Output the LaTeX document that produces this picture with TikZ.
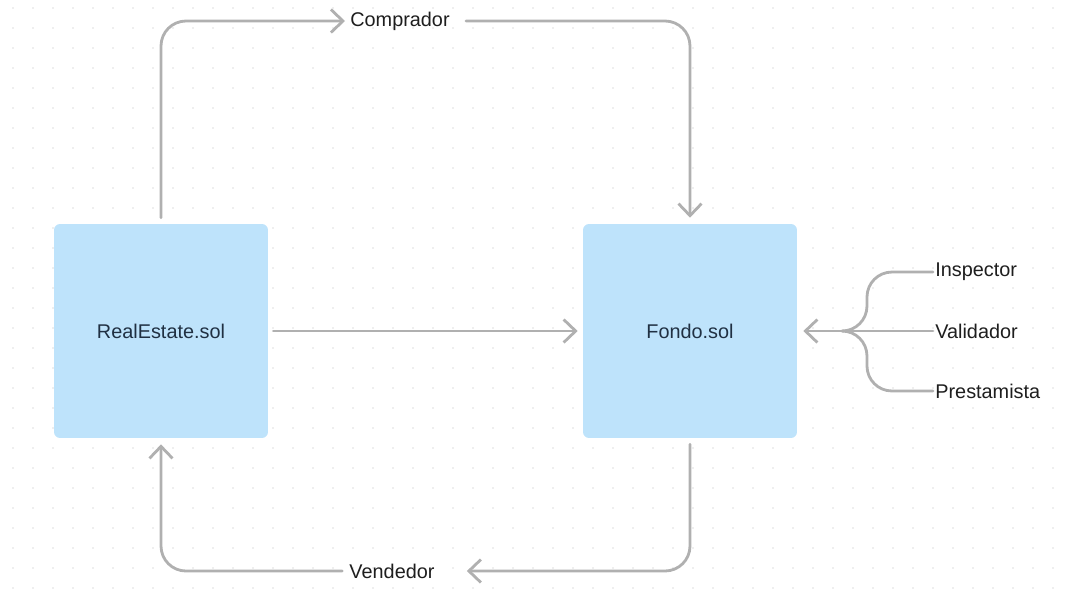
\documentclass[tikz,border=0pt]{standalone}
\usepackage{fontspec}
\setmainfont{Liberation Sans}
\usepackage{tikz}
\usetikzlibrary{positioning,arrows.meta,calc}
\definecolor{boxblue}{RGB}{190,227,251}
\definecolor{linegray}{RGB}{176,176,176}
\definecolor{dotgray}{RGB}{222,222,222}
\definecolor{boxtext}{RGB}{32,48,66}
\definecolor{labeltext}{RGB}{30,30,30}
\tikzset{
  contract/.style={fill=boxblue,rounded corners=0.12cm,minimum size=4.28cm,text=boxtext},
  role/.style={text=labeltext,inner sep=0pt},
  conn/.style={draw=linegray,line width=1.6pt,line cap=round,line join=round,rounded corners=0.5cm},
  tip/.style={-{Straight Barb[length=2.4mm,width=4.6mm,line width=1.6pt]}}
}

\begin{document}
\begin{tikzpicture}[x=0.02cm,y=-0.02cm, every node/.style={font=\fontsize{11.3}{13}\selectfont}]
        \useasboundingbox (0,0) rectangle (1065,600);
        % dotted background
        \foreach \i in {0,...,52}
          \foreach \j in {0,...,29}
            \fill[dotgray] (13+20*\i,8+20*\j) circle (0.55pt);
        \node[contract] (real) at (161,331) {RealEstate.sol};
        \node[contract] (fondo) at (690,331) {Fondo.sol};
        \node[role] (comp) at (400,21) {Comprador};
        \node[role] (vend) at (392,571) {Vendedor};
        \node[role,anchor=west] (val) at (935,331) {Validador};
        \node[role,anchor=west] (insp) at (935,272) {Inspector};
        \node[role,anchor=west] (prest) at (935,391) {Prestamista};
        \coordinate (fork) at (843,331);
        \draw[conn,tip,shorten <=0.12cm,shorten >=0.1cm] (real.north) |- (comp.west);
        \draw[conn,tip,shorten <=0.32cm,shorten >=0.12cm] (comp.east) -| (fondo.north);
        \draw[conn,tip,shorten <=0.1cm,shorten >=0.1cm] (real.east) -- (fondo.west);
        \draw[conn,tip,shorten <=0.12cm,shorten >=0.64cm] (fondo.south) |- (vend.east);
        \draw[conn,tip,shorten <=0.14cm,shorten >=0.12cm] (vend.west) -| (real.south);
        \draw[conn,tip,shorten <=0.04cm,shorten >=0.12cm] (val.west) -- (fondo.east);
        \draw[conn,shorten <=0.04cm] (insp.west) -| ([xshift=0.48cm]fork) -- (fork);
        \draw[conn,shorten <=0.04cm] (prest.west) -| ([xshift=0.48cm]fork) -- (fork);
      \end{tikzpicture}
\end{document}
